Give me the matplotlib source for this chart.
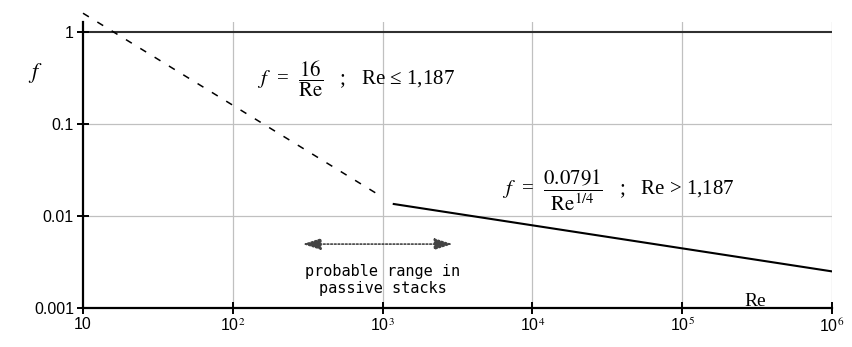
import matplotlib
matplotlib.use("Agg")
import matplotlib.pyplot as plt

# Data
lam_re = [10, 1000]          # laminar branch (dashed)
lam_f = [1.6, 0.016]
turb_re = [1187, 1e6]        # turbulent branch (solid)
turb_f = [0.0135, 0.0025]
x_ticks = [10, 1e2, 1e3, 1e4, 1e5, 1e6]
x_labels = ["10", "10$^2$", "10$^3$", "10$^4$", "10$^5$", "10$^6$"]
y_ticks = [0.001, 0.01, 0.1, 1]
y_labels = ["0.001", "0.01", "0.1", "1"]
range_re = [293, 2930]
range_f = 0.00495

plt.rcParams['mathtext.fontset'] = 'stix'
fig = plt.figure(figsize=(8.52, 3.47), dpi=100)
ax = fig.add_axes([83/852, 1-308/347, (832-83)/852, (308-22)/347])
ax.set_xscale('log')
ax.set_yscale('log')
ax.set_xlim(10, 1e6)
ax.set_ylim(0.001, 10**(10/92))

for s in ['top', 'right']:
    ax.spines[s].set_visible(False)
for s in ['left', 'bottom']:
    ax.spines[s].set_linewidth(1.6)
    ax.spines[s].set_color('black')

ax.set_xticks(x_ticks)
ax.set_xticklabels(x_labels, family='Liberation Sans', fontsize=11.5)
ax.set_yticks(y_ticks)
ax.set_yticklabels(y_labels, family='Liberation Sans', fontsize=11.5)
ax.minorticks_off()
ax.tick_params(direction='inout', length=9, width=1.4, pad=2)

for x in x_ticks[1:]:
    ax.axvline(x, color='#c0c0c0', lw=0.9, zorder=0)
for y in [0.01, 0.1]:
    ax.axhline(y, color='#c0c0c0', lw=0.9, zorder=0)
ax.axhline(1, color='#303030', lw=1.5, zorder=1)

ax.plot(lam_re, lam_f, color='black', lw=1.1, ls=(0, (4.5, 6.5)), clip_on=False)
ax.plot(turb_re, turb_f, color='black', lw=1.5)

ax.annotate('', xy=(range_re[0], range_f), xytext=(range_re[1], range_f),
            arrowprops=dict(arrowstyle='<|-|>,head_length=1.1,head_width=0.35',
                            ls=(0, (1, 1.2)), color='#444444', lw=1.2,
                            shrinkA=0, shrinkB=0))
ax.text(1000, 0.00203, "probable range in\npassive stacks", ha='center', va='center',
        family='DejaVu Sans Mono', fontsize=11, linespacing=1.2)

ax.text(145, 0.308, r"$f$  =  $\dfrac{16}{\mathrm{Re}}$   ;   Re ≤ 1,187",
        family='Liberation Serif', fontsize=15, va='center', ha='left')
ax.text(6300, 0.0192, r"$f$  =  $\dfrac{0.0791}{\mathrm{Re}^{1/4}}$   ;   Re > 1,187",
        family='Liberation Serif', fontsize=15, va='center', ha='left')

fig.text(35/852, 1-73/347, "$f$", fontsize=16, ha='center', va='center')
fig.text(755/852, 1-301/347, "Re", family='Liberation Serif', fontsize=14,
         ha='center', va='center')

fig.savefig("out.png", dpi=100)
